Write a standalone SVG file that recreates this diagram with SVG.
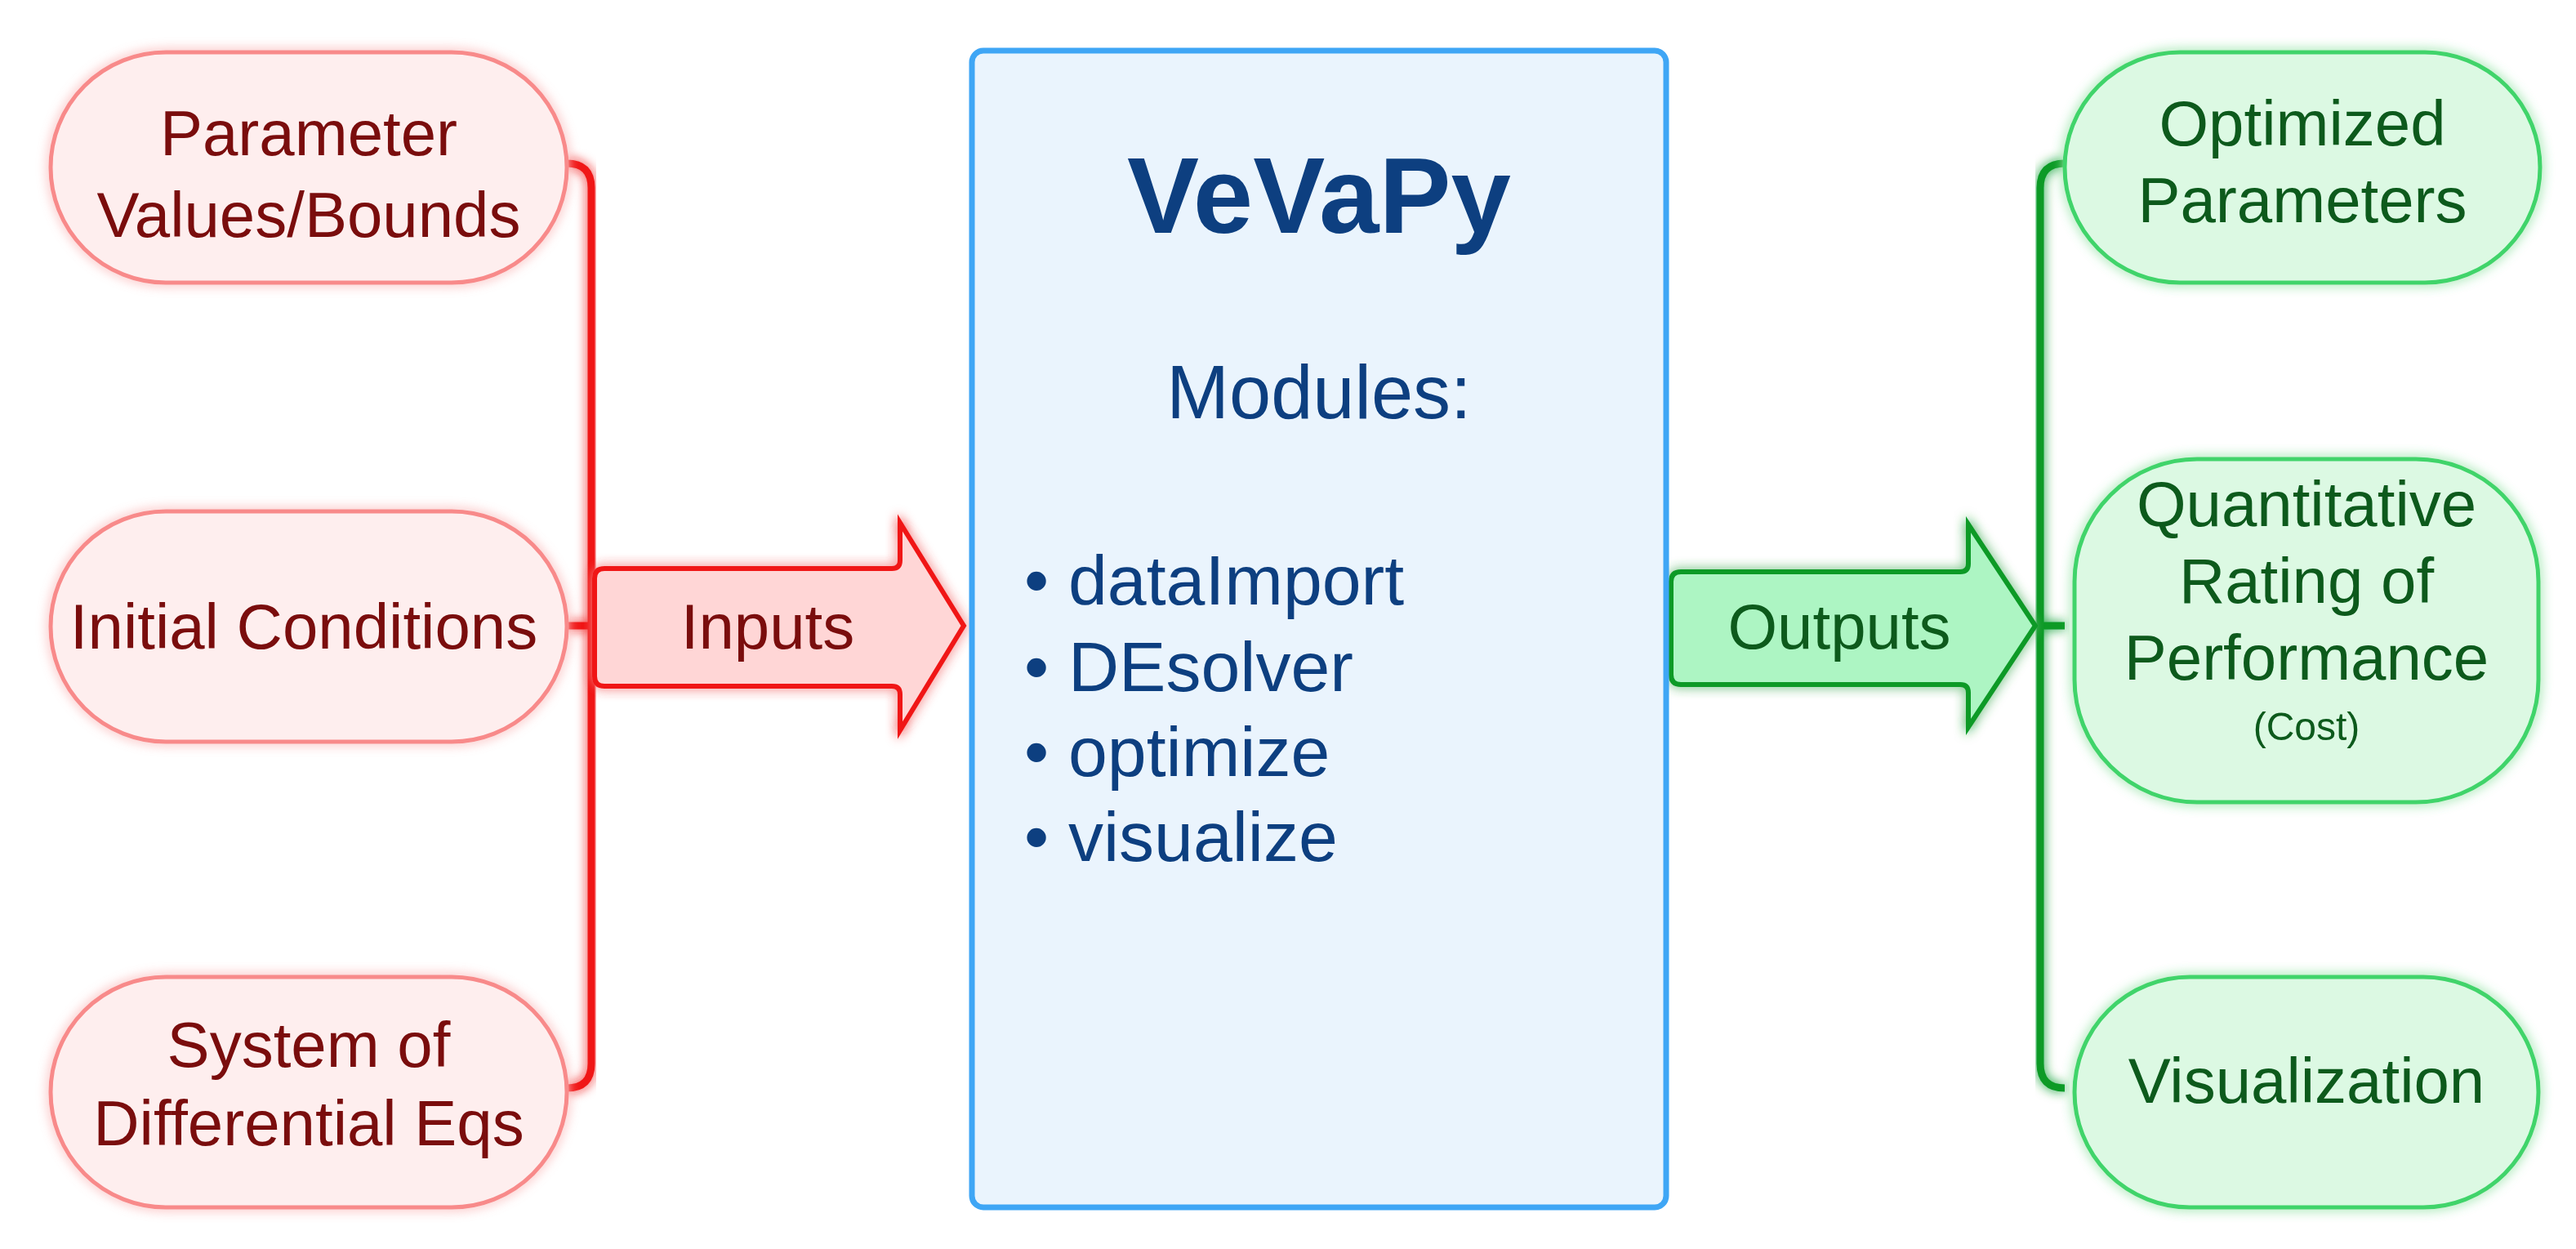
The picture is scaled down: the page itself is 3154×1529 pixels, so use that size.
<svg xmlns="http://www.w3.org/2000/svg" width="3154" height="1529" viewBox="0 0 3154 1529">
<defs>
<filter id="glowR" x="-20%" y="-20%" width="140%" height="140%"><feGaussianBlur stdDeviation="7" in="SourceGraphic" result="b"/><feMerge><feMergeNode in="b"/><feMergeNode in="SourceGraphic"/></feMerge></filter>
<filter id="glowG" x="-20%" y="-20%" width="140%" height="140%"><feGaussianBlur stdDeviation="7" in="SourceGraphic" result="b"/><feMerge><feMergeNode in="b"/><feMergeNode in="SourceGraphic"/></feMerge></filter>
</defs>
<style>
.rbox{fill:#feeeee;stroke:#f88a8a;stroke-width:5}
.gbox{fill:#dcf9e3;stroke:#3fd46a;stroke-width:5}
.rt{font-family:"Liberation Sans",Arial,sans-serif;font-size:78px;fill:#7a0a0a;text-anchor:middle}
.gt{font-family:"Liberation Sans",Arial,sans-serif;font-size:78px;fill:#0b5a1c;text-anchor:middle}
.bt{font-family:"Liberation Sans",Arial,sans-serif;fill:#0d3f80}
</style>
<rect width="3154" height="1529" fill="#fff"/>
<g id="connectors" fill="none" stroke-linejoin="round">
<path d="M694 200 Q724 200 724 230 V1302 Q724 1332 694 1332 M694 766 H724" stroke="#f01818" stroke-width="9" filter="url(#glowR)"/>
<path d="M2528 200 Q2498 200 2498 230 V1302 Q2498 1332 2528 1332 M2498 766 H2528" stroke="#0a9a28" stroke-width="9" filter="url(#glowG)"/>
</g>
<g id="inputs" filter="url(#glowR)">
<path d="M740 696 H1092 Q1102 696 1102 686 V640 L1180 766 L1102 894 V850 Q1102 840 1092 840 H740 Q728 840 728 828 V708 Q728 696 740 696 Z" fill="#ffd6d6" stroke="#f01818" stroke-width="6"/>
<text x="940" y="794" class="rt">Inputs</text>
</g>
<g id="outputs" filter="url(#glowG)">
<path d="M2058 700 H2400 Q2410 700 2410 690 V642 L2492 766 L2410 890 V848 Q2410 838 2400 838 H2058 Q2046 838 2046 826 V712 Q2046 700 2058 700 Z" fill="#adf5c3" stroke="#0a9a28" stroke-width="6"/>
<text x="2252" y="794" class="gt">Outputs</text>
</g>
<g id="param" filter="url(#glowR)">
<rect x="62" y="64" width="632" height="282" rx="141" class="rbox"/>
<text x="378" y="190" class="rt">Parameter</text>
<text x="378" y="290" class="rt">Values/Bounds</text>
</g>
<g id="initial" filter="url(#glowR)">
<rect x="62" y="626" width="632" height="282" rx="141" class="rbox"/>
<text x="372" y="794" class="rt">Initial Conditions</text>
</g>
<g id="system" filter="url(#glowR)">
<rect x="62" y="1196" width="632" height="282" rx="141" class="rbox"/>
<text x="378" y="1306" class="rt">System of</text>
<text x="378" y="1402" class="rt">Differential Eqs</text>
</g>
<g id="vevapy">
<rect x="1190" y="62" width="850" height="1416" rx="14" fill="#eaf4fd" stroke="#3fa6f5" stroke-width="7"/>
<text x="1615" y="285" class="bt" font-size="132" font-weight="bold" text-anchor="middle">VeVaPy</text>
<text x="1615" y="512" class="bt" font-size="92" text-anchor="middle">Modules:</text>
<text x="1254" y="740" class="bt" font-size="86">• dataImport</text>
<text x="1254" y="846" class="bt" font-size="86">• DEsolver</text>
<text x="1254" y="950" class="bt" font-size="86">• optimize</text>
<text x="1254" y="1054" class="bt" font-size="86">• visualize</text>
</g>
<g id="optimized" filter="url(#glowG)">
<rect x="2528" y="64" width="582" height="282" rx="141" class="gbox"/>
<text x="2819" y="178" class="gt">Optimized</text>
<text x="2819" y="272" class="gt">Parameters</text>
</g>
<g id="quant" filter="url(#glowG)">
<rect x="2540" y="562" width="568" height="420" rx="150" class="gbox"/>
<text x="2824" y="644" class="gt">Quantitative</text>
<text x="2824" y="738" class="gt">Rating of</text>
<text x="2824" y="832" class="gt">Performance</text>
<text x="2824" y="906" class="gt" style="font-size:48px">(Cost)</text>
</g>
<g id="visualization" filter="url(#glowG)">
<rect x="2540" y="1196" width="568" height="282" rx="141" class="gbox"/>
<text x="2824" y="1350" class="gt">Visualization</text>
</g>
</svg>
